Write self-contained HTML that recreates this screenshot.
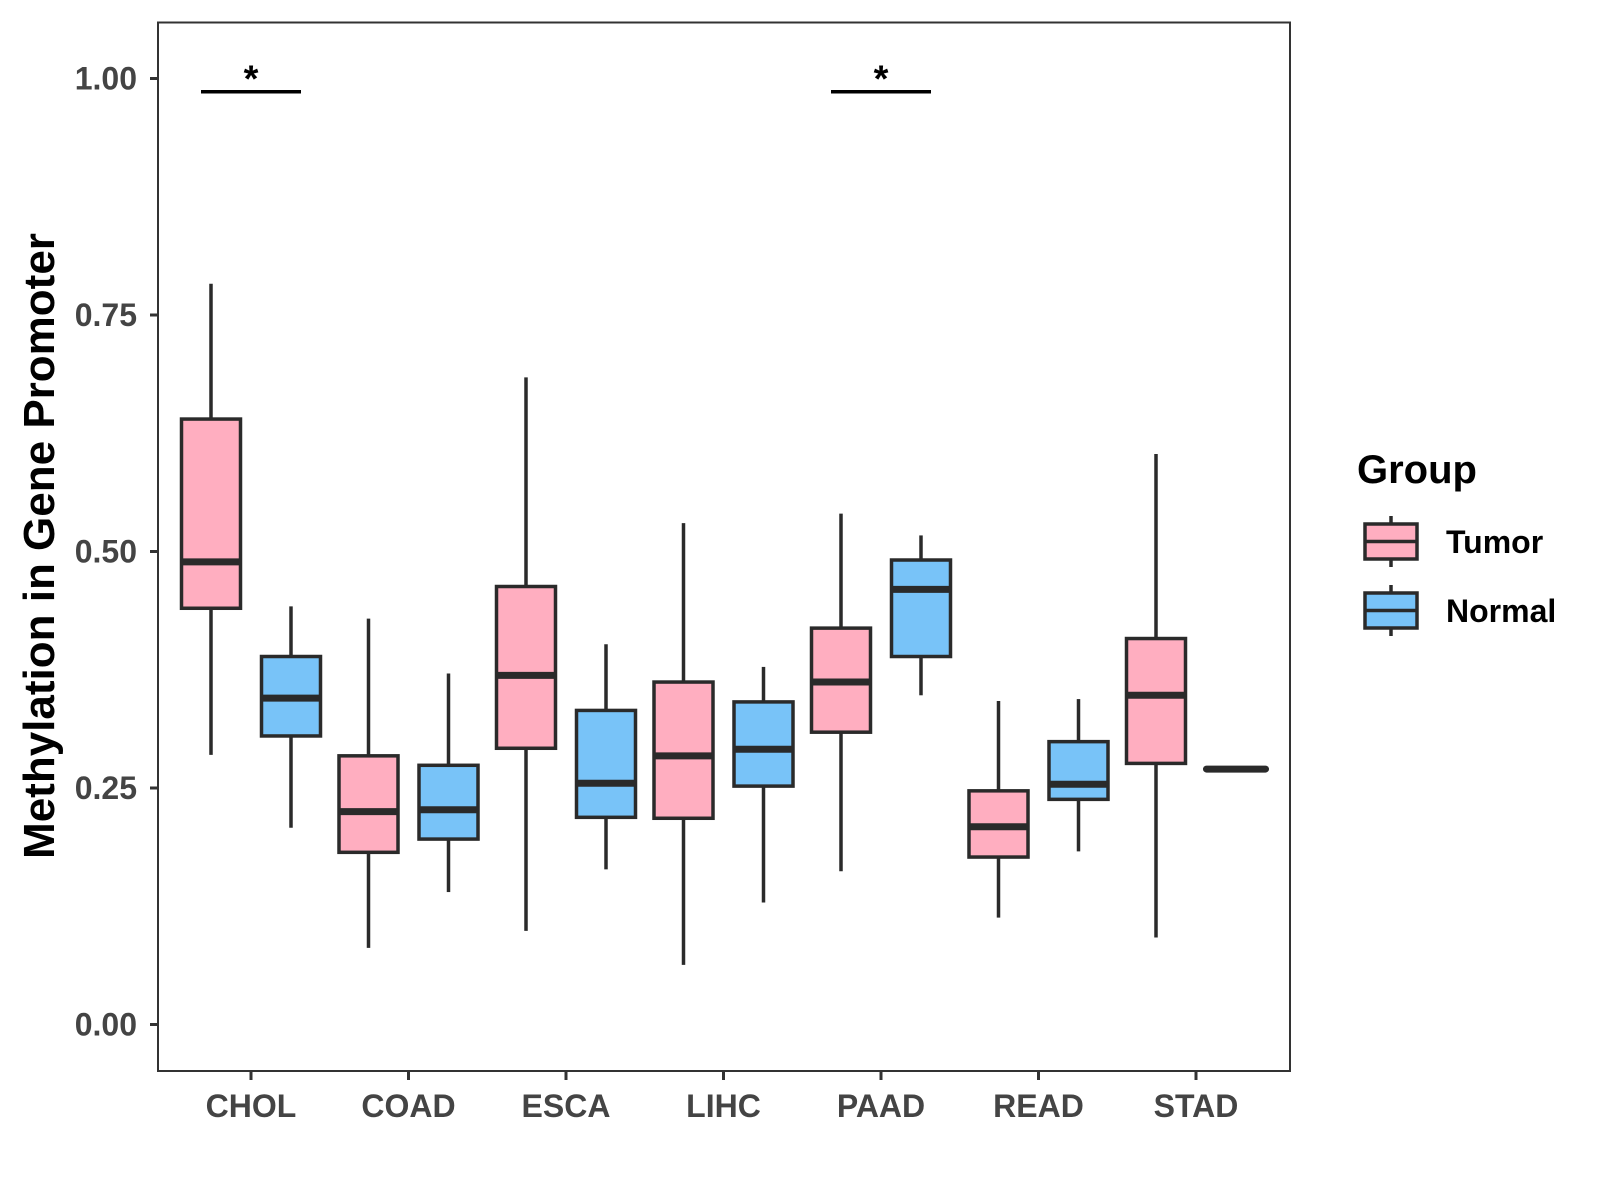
<!DOCTYPE html>
<html><head><meta charset="utf-8"><style>
html,body{margin:0;padding:0;background:#fff;}
svg{display:block;font-family:"Liberation Sans",Arial,sans-serif;font-weight:bold;}
</style></head><body>
<svg id="chart" width="1600" height="1200" viewBox="0 0 1600 1200">
<rect x="0" y="0" width="1600" height="1200" fill="#fff"/>
<g id="plot"></g>
<rect x="158" y="22.5" width="1132" height="1048.5" fill="none" stroke="#333" stroke-width="2"/>
<text transform="translate(54,546) rotate(-90)" text-anchor="middle" font-size="44" fill="#000">Methylation in Gene Promoter</text>
<g>
<text x="1357" y="483" font-size="40" fill="#000">Group</text>
<g id="legend-keys"></g>
</g>
</svg>
<script>
const categories = ["CHOL","COAD","ESCA","LIHC","PAAD","READ","STAD"];
const groups = ["Tumor","Normal"];
// [low whisker, Q1, median, Q3, high whisker]
const tumorStats = [
 [0.285,0.440,0.489,0.640,0.783],
 [0.081,0.182,0.225,0.284,0.429],
 [0.099,0.292,0.369,0.463,0.684],
 [0.063,0.218,0.284,0.362,0.530],
 [0.162,0.309,0.362,0.419,0.540],
 [0.113,0.177,0.209,0.247,0.342],
 [0.092,0.276,0.348,0.408,0.603]
];
const normalStats = [
 [0.208,0.305,0.345,0.389,0.442],
 [0.140,0.196,0.227,0.274,0.371],
 [0.164,0.219,0.255,0.332,0.402],
 [0.129,0.252,0.291,0.341,0.378],
 [0.348,0.389,0.460,0.491,0.517],
 [0.183,0.238,0.254,0.299,0.344],
 [0.270,0.270,0.270,0.270,0.270]
];
const yTicks = [0,0.25,0.5,0.75,1.0];
const yTickLabels = ["0.00","0.25","0.50","0.75","1.00"];
const sigCategories = ["CHOL","PAAD"];
const sigLevel = 0.986;
const sigLabels = ["*","*"];

const colors = {Tumor:"#FFAEC0", Normal:"#78C3F8"};
const NS = "http://www.w3.org/2000/svg";
const yScale = v => 1024.5 - v * 946;
const xScale = i => 251 + i * 157.5;
const offset = 40, bw = 59;
const plot = document.getElementById('plot');
function mk(tag, attrs, parent){const e=document.createElementNS(NS,tag);for(const k in attrs)e.setAttribute(k,attrs[k]);(parent||plot).appendChild(e);return e;}

yTicks.forEach((t,i)=>{
  const y=yScale(t);
  const tk=mk('line',{x1:150,x2:158,y1:y,y2:y,stroke:'#333','stroke-width':3});
  
  
  const tx=mk('text',{x:137,y:y+11,'text-anchor':'end','font-size':32,fill:'#444'});
  tx.textContent=yTickLabels[i];
  
  
});
categories.forEach((c,i)=>{
  const x=xScale(i);
  const tk=mk('line',{x1:x,x2:x,y1:1071,y2:1080,stroke:'#333','stroke-width':3});
  
  
  const tx=mk('text',{x:x,y:1117,'text-anchor':'middle','font-size':32,fill:'#444'});
  tx.textContent=c;
  
  
});
function drawBox(s, cx, color, name){
  const g=mk('g',{});
  
  
  const [lo,q1,med,q3,hi]=s;
  mk('line',{x1:cx,x2:cx,y1:yScale(hi),y2:yScale(q3),stroke:'#2a2a2a','stroke-width':3.5},g);
  mk('line',{x1:cx,x2:cx,y1:yScale(q1),y2:yScale(lo),stroke:'#2a2a2a','stroke-width':3.5},g);
  if(q3>q1) mk('rect',{x:cx-bw/2,y:yScale(q3),width:bw,height:yScale(q1)-yScale(q3),fill:color,stroke:'#2a2a2a','stroke-width':3.5},g);
  mk('line',{x1:cx-bw/2,x2:cx+bw/2,y1:yScale(med),y2:yScale(med),stroke:'#2a2a2a','stroke-width':7,'stroke-linecap':q3>q1?'butt':'round'},g);
}
categories.forEach((c,i)=>{
  drawBox(tumorStats[i], xScale(i)-offset, colors.Tumor, 'box-tumor-'+c.toLowerCase());
  drawBox(normalStats[i], xScale(i)+offset, colors.Normal, 'box-normal-'+c.toLowerCase());
});
sigCategories.forEach((c,k)=>{
  const i=categories.indexOf(c), x=xScale(i), y=yScale(sigLevel);
  const l=mk('line',{x1:x-50,x2:x+50,y1:y,y2:y,stroke:'#000','stroke-width':3.5});
  
  
  const t=mk('text',{x:x,y:y,'text-anchor':'middle','font-size':38,fill:'#000'});
  t.textContent=sigLabels[k];
  
  
});
const lk=document.getElementById('legend-keys');
groups.forEach((g,i)=>{
  const y0=524+i*69;
  const grp=mk('g',{},lk);
  
  
  mk('line',{x1:1391,x2:1391,y1:y0-8,y2:y0+43,stroke:'#2a2a2a','stroke-width':3.5},grp);
  mk('rect',{x:1365,y:y0,width:52,height:35,fill:colors[g],stroke:'#2a2a2a','stroke-width':3.5},grp);
  mk('line',{x1:1365,x2:1417,y1:y0+17.5,y2:y0+17.5,stroke:'#2a2a2a','stroke-width':3.5},grp);
  const t=mk('text',{x:1446,y:y0+29,'font-size':32,fill:'#000'},grp);
  t.textContent=g;
});
</script>
</body></html>
